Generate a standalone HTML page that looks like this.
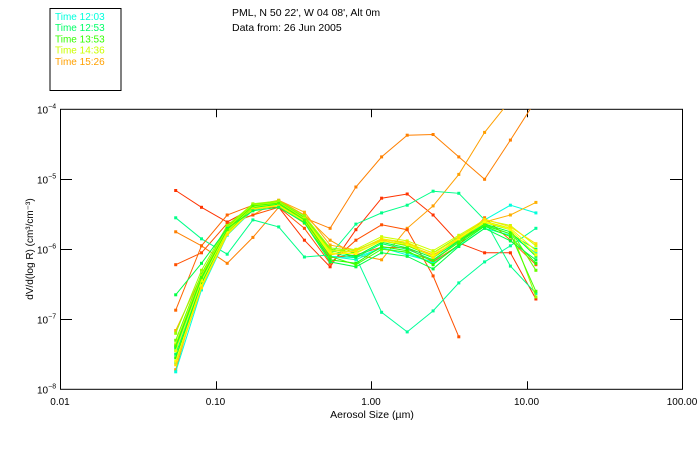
<!DOCTYPE html>
<html><head><meta charset="utf-8"><style>
html,body{margin:0;padding:0;background:#fff;}
svg{display:block;font-family:"Liberation Sans",sans-serif;}
</style></head><body>
<svg id="chart" width="700" height="450" xmlns="http://www.w3.org/2000/svg">
<defs><clipPath id="pc"><rect x="60" y="109" width="622" height="280"/></clipPath></defs>
<rect x="50" y="8.5" width="71" height="82" fill="none" stroke="#000"/>
<g id="legend" font-size="10"></g>
<text x="232" y="16" font-size="10.5">PML, N 50 22', W 04 08', Alt 0m</text>
<text x="232" y="31" font-size="10.5">Data from: 26 Jun 2005</text>
<g id="axes"></g>
<g id="series" clip-path="url(#pc)"></g>
<text x="372" y="418" font-size="10.5" text-anchor="middle">Aerosol Size (µm)</text>
<text transform="translate(33,249) rotate(-90)" font-size="10" text-anchor="middle">dV/d(log R) (cm³/cm⁻³)</text>
</svg>
<script>
const xTickValues=[0.01,0.1,1,10,100];
const xTickLabels=["0.01","0.10","1.00","10.00","100.00"];
const yTickExps=[-4,-5,-6,-7,-8];
const sizes=[0.0555,0.0813,0.119,0.174,0.255,0.373,0.546,0.800,1.17,1.71,2.51,3.67,5.38,7.88,11.5];
const legendLabels=["Time 12:03","Time 12:53","Time 13:53","Time 14:36","Time 15:26"];
const legendColors=["#00ffdd","#00ff66","#33ff00","#ccff00","#ffa000"];
const seriesColors=["#ff3300","#ff8000","#ffa000","#ff5000","#00ff99","#00ff88","#00ffdd","#ffb000","#ff6600",
"#00ffcc","#00ff66","#00ff33","#22ff00","#66ff00","#99ff00","#ccff00","#eeff00","#ffff00","#ffe000","#00ff44","#44ff00"];
// log10 of dV/dlogR
const s0=[-5.16,-5.40,-5.61,-5.41,-5.40,-5.87,-6.25,-5.72,-5.27,-5.21,-5.51,-5.91,-6.05,-6.05,-6.71];
const s1=[-5.75,-5.95,-6.20,-5.83,-5.40,-5.55,-5.70,-5.11,-4.68,-4.37,-4.36,-4.68,-5.00,-4.44,-3.87];
const s2=[-7.72,-6.44,-5.65,-5.51,-5.30,-5.51,-5.87,-6.08,-6.15,-5.70,-5.38,-4.93,-4.33,-3.87,-3.80];
const s3=[-6.22,-6.05,-5.63,-5.51,-5.40,-5.70,-6.20,-5.87,-5.65,-5.72,-6.38,-7.25,null,null,null];
const s4=[-7.44,-6.44,-5.73,-5.44,-5.36,-5.55,-6.01,-6.11,-6.90,-7.18,-6.88,-6.48,-6.18,-5.95,-5.70];
const s5=[-5.55,-5.85,-6.07,-5.58,-5.68,-6.11,-6.08,-5.64,-5.48,-5.37,-5.17,-5.20,-5.58,-6.24,-6.63];
const s6=[-7.75,-6.58,-5.80,-5.44,-5.37,-5.61,-6.10,-6.12,-5.98,-6.08,-6.18,-5.87,-5.58,-5.37,-5.48];
const s7=[-7.16,-6.37,-5.70,-5.37,-5.30,-5.47,-5.94,-6.01,-5.87,-5.94,-6.08,-5.87,-5.61,-5.51,-5.33];
const s8=[-6.87,-5.95,-5.51,-5.37,-5.35,-5.61,-6.12,-6.08,-5.97,-5.98,-6.18,-5.94,-5.55,-5.87,-6.22];
const s9=[-7.62,-6.55,-5.78,-5.42,-5.38,-5.62,-6.10,-6.15,-5.98,-6.05,-6.20,-5.95,-5.70,-5.80,-6.05];
const s10=[-7.50,-6.48,-5.75,-5.40,-5.35,-5.57,-6.05,-6.12,-5.92,-6.00,-6.15,-5.90,-5.66,-5.78,-6.00];
const s11=[-7.40,-6.42,-5.72,-5.38,-5.33,-5.55,-6.02,-6.10,-5.90,-5.98,-6.12,-5.88,-5.64,-5.75,-6.10];
const s12=[-7.55,-6.50,-5.76,-5.41,-5.36,-5.60,-6.15,-6.20,-5.96,-6.02,-6.22,-5.93,-5.67,-5.82,-6.20];
const s13=[-7.30,-6.35,-5.68,-5.36,-5.32,-5.54,-6.00,-6.05,-5.88,-5.95,-6.10,-5.86,-5.62,-5.72,-6.30];
const s14=[-7.20,-6.30,-5.66,-5.35,-5.31,-5.52,-5.98,-6.02,-5.85,-5.92,-6.05,-5.82,-5.60,-5.70,-6.68];
const s15=[-7.35,-6.38,-5.70,-5.37,-5.33,-5.56,-6.02,-6.00,-5.82,-5.88,-6.02,-5.80,-5.58,-5.66,-5.95];
const s16=[-7.45,-6.45,-5.74,-5.39,-5.34,-5.58,-6.04,-6.03,-5.85,-5.90,-6.06,-5.84,-5.62,-5.70,-6.02];
const s17=[-7.60,-6.52,-5.77,-5.42,-5.37,-5.60,-6.06,-6.06,-5.88,-5.93,-6.10,-5.85,-5.60,-5.72,-6.08];
const s18=[-7.65,-6.55,-5.79,-5.43,-5.38,-5.63,-6.08,-6.02,-5.86,-5.90,-6.12,-5.83,-5.57,-5.68,-5.92];
const s19=[-6.65,-6.20,-5.70,-5.45,-5.40,-5.62,-6.18,-6.25,-6.05,-6.10,-6.28,-5.96,-5.70,-5.88,-6.15];
const s20=[-7.38,-6.40,-5.72,-5.38,-5.34,-5.58,-6.10,-6.22,-6.00,-6.04,-6.16,-5.90,-5.65,-5.78,-6.60];
const seriesData=[s0,s1,s2,s3,s4,s5,s6,s7,s8,s9,s10,s11,s12,s13,s14,s15,s16,s17,s18,s19,s20];

const NS="http://www.w3.org/2000/svg";
const X0=60,X1=682,Y0=109.3,Y1=389.3;
function xScale(v){return X0+(Math.log10(v)+2)/4*(X1-X0);}
function yScale(e){return Y0+(-4-e)/4*(Y1-Y0);}
function mk(tag,attrs,parent){const el=document.createElementNS(NS,tag);for(const k in attrs)el.setAttribute(k,attrs[k]);parent.appendChild(el);return el;}

const axes=document.getElementById('axes');
const frame=mk('rect',{x:X0+0.5,y:Y0,width:X1-X0,height:Y1-Y0,fill:'none',stroke:'#000'},axes);


xTickValues.forEach((v,i)=>{
  const x=Math.round(xScale(v))+0.5;
  if(i>0&&i<xTickValues.length-1){
    const t=mk('line',{x1:x,x2:x,y1:Y1,y2:Y1-8,stroke:'#000'},axes);
    
    
    const t2=mk('line',{x1:x,x2:x,y1:Y0,y2:Y0+8,stroke:'#000'},axes);
    
    
  }
  const l=mk('text',{x:xScale(v),y:405,'font-size':10,'text-anchor':'middle'},axes);
  l.textContent=xTickLabels[i];
  
  
});
yTickExps.forEach((e,i)=>{
  const y=Math.round(yScale(e))+0.5;
  if(i>0&&i<yTickExps.length-1){
    const t=mk('line',{x1:X0,x2:X0+12,y1:y,y2:y,stroke:'#000'},axes);
    
    
    const t2=mk('line',{x1:X1,x2:X1-12,y1:y,y2:y,stroke:'#000'},axes);
    
    
  }
  const l=mk('text',{x:37,y:y+4,'font-size':10},axes);
  l.textContent='10';
  const sup=mk('tspan',{dy:-5,'font-size':7},l);
  sup.textContent=String(e).replace('-','−');
  
  
});

const leg=document.getElementById('legend');
legendLabels.forEach((lab,i)=>{
  const t=mk('text',{x:55,y:20+i*11.2,fill:legendColors[i]},leg);
  t.textContent=lab;
  
  
});

const sg=document.getElementById('series');
seriesData.forEach((arr,si)=>{
  const g=mk('g',{},sg);
  
  
  const col=seriesColors[si%seriesColors.length];
  const pts=[];
  arr.forEach((v,i)=>{if(v!==null)pts.push([xScale(sizes[i]),yScale(v)]);});
  mk('polyline',{points:pts.map(p=>p[0].toFixed(1)+','+p[1].toFixed(1)).join(' '),fill:'none',stroke:col,'stroke-width':1},g);
  pts.forEach(p=>{
    const r=mk('rect',{x:(p[0]-1.5).toFixed(1),y:(p[1]-1.5).toFixed(1),width:3,height:3,fill:col},g);
    
    
  });
});
</script>
</body></html>
